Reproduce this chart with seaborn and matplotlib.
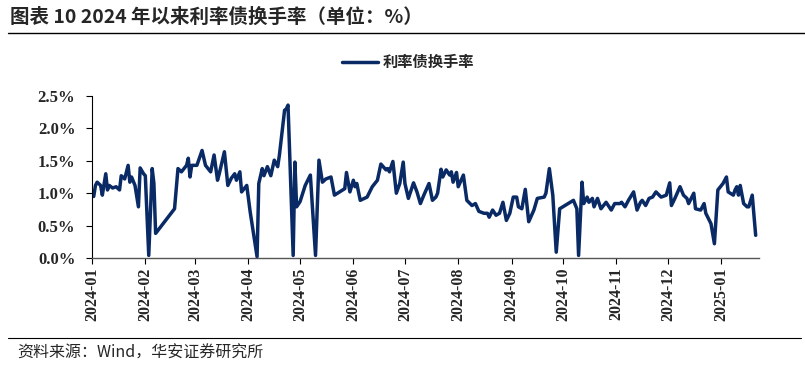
import pandas as pd
import seaborn as sns
import matplotlib.pyplot as plt
import matplotlib.dates as mdates
from matplotlib.lines import Line2D
from matplotlib.ticker import FuncFormatter

# turnover rate of rate bonds (%)
dates = [
    "2024-01-02", "2024-01-03", "2024-01-04", "2024-01-06", "2024-01-07", "2024-01-09",
    "2024-01-10", "2024-01-11", "2024-01-13", "2024-01-15", "2024-01-17", "2024-01-18",
    "2024-01-20", "2024-01-22", "2024-01-23", "2024-01-24", "2024-01-26", "2024-01-28",
    "2024-01-29", "2024-01-31", "2024-02-01", "2024-02-03", "2024-02-05", "2024-02-06",
    "2024-02-07", "2024-02-18", "2024-02-20", "2024-02-22", "2024-02-25", "2024-02-26",
    "2024-02-27", "2024-02-28", "2024-03-02", "2024-03-05", "2024-03-07", "2024-03-10",
    "2024-03-12", "2024-03-14", "2024-03-15", "2024-03-18", "2024-03-20", "2024-03-22",
    "2024-03-24", "2024-03-25", "2024-03-27", "2024-03-28", "2024-03-31", "2024-04-02",
    "2024-04-06", "2024-04-07", "2024-04-09", "2024-04-10", "2024-04-12", "2024-04-14",
    "2024-04-16", "2024-04-18", "2024-04-19", "2024-04-22", "2024-04-23", "2024-04-24",
    "2024-04-27", "2024-04-28", "2024-04-29", "2024-05-01", "2024-05-04", "2024-05-07",
    "2024-05-10", "2024-05-12", "2024-05-14", "2024-05-16", "2024-05-19", "2024-05-21",
    "2024-05-24", "2024-05-27", "2024-05-28", "2024-05-30", "2024-06-01", "2024-06-02",
    "2024-06-03", "2024-06-05", "2024-06-09", "2024-06-12", "2024-06-15", "2024-06-17",
    "2024-06-20", "2024-06-21", "2024-06-22", "2024-06-24", "2024-06-26", "2024-06-28",
    "2024-06-30", "2024-07-01", "2024-07-03", "2024-07-06", "2024-07-08", "2024-07-10",
    "2024-07-12", "2024-07-15", "2024-07-17", "2024-07-19", "2024-07-20", "2024-07-22",
    "2024-07-23", "2024-07-25", "2024-07-27", "2024-07-28", "2024-07-29", "2024-07-31",
    "2024-08-01", "2024-08-04", "2024-08-06", "2024-08-09", "2024-08-11", "2024-08-13",
    "2024-08-16", "2024-08-18", "2024-08-19", "2024-08-21", "2024-08-23", "2024-08-25",
    "2024-08-27", "2024-08-29", "2024-08-31", "2024-09-02", "2024-09-04", "2024-09-05",
    "2024-09-07", "2024-09-09", "2024-09-11", "2024-09-14", "2024-09-16", "2024-09-20",
    "2024-09-21", "2024-09-23", "2024-09-25", "2024-09-27", "2024-09-29", "2024-10-07",
    "2024-10-09", "2024-10-10", "2024-10-12", "2024-10-13", "2024-10-15", "2024-10-16",
    "2024-10-18", "2024-10-19", "2024-10-21", "2024-10-23", "2024-10-26", "2024-10-29",
    "2024-10-31", "2024-11-03", "2024-11-04", "2024-11-06", "2024-11-08", "2024-11-11",
    "2024-11-13", "2024-11-15", "2024-11-16", "2024-11-18", "2024-11-20", "2024-11-22",
    "2024-11-24", "2024-11-27", "2024-11-30", "2024-12-02", "2024-12-03", "2024-12-05",
    "2024-12-08", "2024-12-10", "2024-12-12", "2024-12-13", "2024-12-16", "2024-12-17",
    "2024-12-20", "2024-12-22", "2024-12-23", "2024-12-26", "2024-12-28", "2024-12-30",
    "2025-01-02", "2025-01-04", "2025-01-05", "2025-01-08", "2025-01-09", "2025-01-10",
    "2025-01-11", "2025-01-12", "2025-01-14", "2025-01-16", "2025-01-17", "2025-01-19",
    "2025-01-21",
]
turnover = [
    0.95, 1.12, 1.17, 1.12, 0.97, 1.30,
    1.05, 1.12, 1.08, 1.10, 1.05, 1.27,
    1.22, 1.43, 1.17, 1.25, 1.12, 0.79,
    1.39, 1.30, 1.27, 0.04, 1.38, 1.15,
    0.38, 0.76, 1.38, 1.33, 1.43, 1.54,
    1.25, 1.43, 1.43, 1.66, 1.43, 1.33,
    1.59, 1.20, 1.30, 1.64, 1.12, 1.23,
    1.30, 1.20, 1.33, 1.02, 1.12, 0.71,
    0.02, 1.15, 1.38, 1.27, 1.41, 1.27,
    1.51, 1.41, 1.59, 2.28, 2.30, 2.36,
    0.04, 1.48, 0.79, 0.87, 1.12, 1.28,
    0.04, 1.51, 1.17, 1.22, 1.25, 0.97,
    1.02, 1.07, 1.32, 1.02, 1.20, 1.10,
    1.15, 0.89, 0.94, 1.10, 1.20, 1.45,
    1.36, 1.38, 1.33, 1.49, 1.00, 1.15,
    1.48, 1.15, 0.92, 1.16, 1.02, 0.84,
    0.97, 1.15, 0.89, 0.94, 1.00, 1.37,
    1.25, 1.36, 1.28, 1.33, 1.17, 1.32,
    1.10, 1.28, 0.89, 0.81, 0.84, 0.72,
    0.69, 0.69, 0.63, 0.74, 0.66, 0.69,
    0.86, 0.58, 0.69, 0.94, 0.94, 0.79,
    0.76, 1.06, 0.56, 0.74, 0.92, 0.94,
    1.00, 1.38, 0.97, 0.09, 0.76, 0.89,
    0.76, 0.04, 1.17, 0.84, 0.94, 0.86,
    0.92, 0.79, 0.92, 0.76, 0.86, 0.74,
    0.84, 0.84, 0.86, 0.79, 0.89, 1.02,
    0.74, 0.86, 0.89, 0.81, 0.92, 0.94,
    1.02, 0.94, 0.97, 1.16, 0.81, 0.92,
    1.10, 0.97, 0.92, 0.84, 1.00, 0.76,
    0.74, 0.84, 0.69, 0.53, 0.22, 1.05,
    1.15, 1.25, 1.02, 0.97, 1.05, 1.10,
    0.97, 1.12, 0.84, 0.79, 0.79, 0.97,
    0.35,
]

series_name = "利率债换手率"
title = "图表 10 2024 年以来利率债换手率（单位：%）"
source = "资料来源：Wind，华安证券研究所"
line_color = "#0a2a66"

df = pd.DataFrame({"date": pd.to_datetime(dates), "turnover": turnover})

sns.set_style("white")
plt.rcParams["font.family"] = ["Noto Sans CJK SC", "DejaVu Sans"]

fig = plt.figure(figsize=(8.05, 3.69), dpi=100)
ax = fig.add_axes([0.1143, 0.3008, 0.8287, 0.439])

sns.lineplot(data=df, x="date", y="turnover", ax=ax, color=line_color,
             linewidth=2.5, legend=False)

ax.set_ylim(0, 2.5)
ax.set_yticks([0, 0.5, 1.0, 1.5, 2.0, 2.5])
ax.yaxis.set_major_formatter(FuncFormatter(lambda v, p: f"{v:.1f}%"))
ax.set_xlim(pd.Timestamp("2024-01-01"), pd.Timestamp("2025-01-23"))
ax.xaxis.set_major_locator(mdates.MonthLocator())
ax.xaxis.set_major_formatter(mdates.DateFormatter("%Y-%m"))
ax.set_xlabel("")
ax.set_ylabel("")

for lab in ax.get_yticklabels():
    lab.set(family="Liberation Serif", weight="bold", size=12)
for lab in ax.get_xticklabels():
    lab.set(family="Liberation Serif", weight="bold", size=11.5, rotation=90)

ax.tick_params(axis="both", direction="out", length=4, width=0.8, color="black",
               left=True, bottom=True)
ax.tick_params(axis="y", pad=8)
ax.tick_params(axis="x", pad=3)
ax.spines["top"].set_visible(False)
ax.spines["right"].set_visible(False)
ax.spines["left"].set_color("black")
ax.spines["left"].set_linewidth(0.8)
ax.spines["bottom"].set_color("#555555")
ax.spines["bottom"].set_linewidth(1.0)

# legend on top
handle = Line2D([], [], color=line_color, linewidth=2.5)
fig.legend([handle], [series_name], loc="center", bbox_to_anchor=(0.507, 0.832),
           frameon=False, handlelength=2.4, handletextpad=0.3,
           prop=dict(family="Noto Sans CJK SC", weight="bold", size=11))

# title, rules and source
fig.text(0.012, 0.953, title, fontsize=14, fontweight="bold", va="center", ha="left")
fig.add_artist(Line2D([0.01, 1.0], [0.91, 0.91], color="black", linewidth=1.0))
fig.add_artist(Line2D([0.01, 0.995], [0.084, 0.084], color="black", linewidth=0.8))
fig.text(0.021, 0.043, source, fontsize=11.5, va="center", ha="left")

fig.savefig("out.png", dpi=100)
